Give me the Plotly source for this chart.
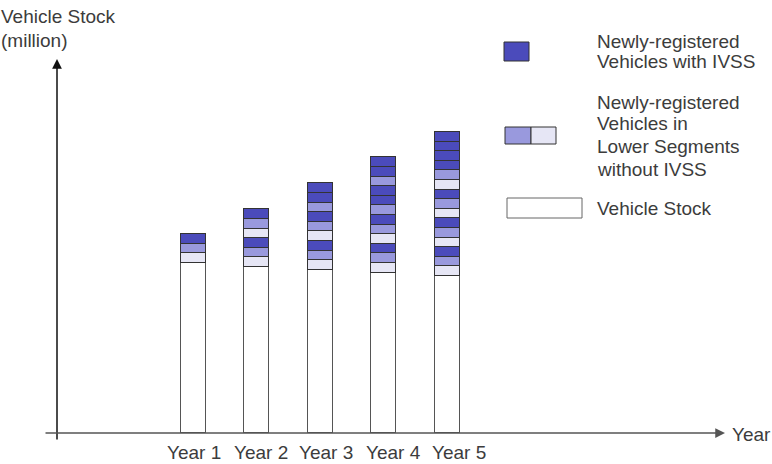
import plotly.graph_objects as go

# ---------------- data ----------------
years = ["Year 1", "Year 2", "Year 3", "Year 4", "Year 5"]
vehicle_stock = [17.7, 17.3, 17.0, 16.7, 16.35]          # million (schematic)
block_size = 1.0                                          # one block of new registrations
# stacked blocks of newly-registered vehicles, bottom to top
# "ivss" = with IVSS, "lower_a"/"lower_b" = lower segments without IVSS
new_blocks = [
    ["lower_b", "lower_a", "ivss"],
    ["lower_b", "lower_a", "ivss", "lower_b", "lower_a", "ivss"],
    ["lower_b", "lower_a", "ivss", "lower_b", "lower_a", "ivss",
     "lower_a", "ivss", "ivss"],
    ["lower_b", "lower_a", "ivss", "lower_b", "lower_a", "ivss",
     "lower_a", "ivss", "ivss", "lower_a", "ivss", "ivss"],
    ["lower_b", "lower_a", "ivss", "lower_b", "lower_a", "ivss",
     "lower_b", "lower_a", "ivss", "lower_b", "lower_a", "ivss",
     "ivss", "ivss", "ivss"],
]
legend_labels = [
    ["Newly-registered", "Vehicles with IVSS"],
    ["Newly-registered", "Vehicles in", "Lower Segments", "without IVSS"],
    ["Vehicle Stock"],
]
y_title = ["Vehicle Stock", "(million)"]
x_title = "Year"

# ---------------- styles ----------------
colors = {"ivss": "#4b4bbb", "lower_a": "#9999dd", "lower_b": "#e6e6f5"}
TXT = "#3c3c3c"
FONT = "Liberation Sans, Arial, sans-serif"
FS = 19
W, H = 772, 464
BASE = 433  # pixel row of x axis


def px(x):
    return x / W


def py(y):
    return (BASE - y) / BASE


fig = go.Figure()

fig.add_trace(go.Bar(
    x=years, y=vehicle_stock, width=0.393,
    marker=dict(color="white", line=dict(color="#555555", width=1)),
    showlegend=False, hoverinfo="skip"))

max_len = max(len(b) for b in new_blocks)
for k in range(max_len):
    xs, ys, cs = [], [], []
    for yr, blocks in zip(years, new_blocks):
        if k < len(blocks):
            xs.append(yr)
            ys.append(block_size)
            cs.append(colors[blocks[k]])
    fig.add_trace(go.Bar(
        x=xs, y=ys, width=0.393,
        marker=dict(color=cs, line=dict(color="#333333", width=1)),
        showlegend=False, hoverinfo="skip"))

# axis range so categories land at the reference bar positions
slope, x0 = 63.6, 193.0
a = -x0 / slope
b = a + W / slope
unit_px = 9.6

annotations = []
# axes with arrows
annotations.append(dict(x=px(57), y=py(59), xref="paper", yref="paper",
                        ax=0, ay=382, axref="pixel", ayref="pixel",
                        text="", showarrow=True, arrowhead=2, arrowsize=1.3,
                        arrowwidth=1.5, arrowcolor="#111111", standoff=0))
annotations.append(dict(x=px(725), y=py(433), xref="paper", yref="paper",
                        ax=-681, ay=0, axref="pixel", ayref="pixel",
                        text="", showarrow=True, arrowhead=2, arrowsize=1.3,
                        arrowwidth=1.5, arrowcolor="#555555", standoff=0))

def label(text, x, y, anchor="left"):
    annotations.append(dict(x=px(x), y=py(y), xref="paper", yref="paper",
                            text=text, showarrow=False, xanchor=anchor,
                            yanchor="middle",
                            font=dict(family=FONT, size=FS, color=TXT)))

# y title
for i, t in enumerate(y_title):
    label(t, -1, 16 + 24 * i)
# x title
label(x_title, 730, 434)
# category labels
for yr, cx in zip(years, [194, 261, 326, 393.5, 458.5]):
    label(yr, cx, 452, anchor="center")

# legend
shapes = [
    dict(type="rect", xref="paper", yref="paper", x0=px(504), x1=px(529),
         y0=py(61), y1=py(42), fillcolor=colors["ivss"],
         line=dict(color="#333333", width=1)),
    dict(type="rect", xref="paper", yref="paper", x0=px(505), x1=px(531),
         y0=py(144), y1=py(127), fillcolor=colors["lower_a"],
         line=dict(color="#333333", width=1)),
    dict(type="rect", xref="paper", yref="paper", x0=px(531), x1=px(556),
         y0=py(144), y1=py(127), fillcolor=colors["lower_b"],
         line=dict(color="#333333", width=1)),
    dict(type="rect", xref="paper", yref="paper", x0=px(507), x1=px(582),
         y0=py(218), y1=py(198), fillcolor="white",
         line=dict(color="#666666", width=1)),
]
legend_y = [[41, 62], [102, 124, 146, 169], [209]]
for lines, ys in zip(legend_labels, legend_y):
    for t, yy in zip(lines, ys):
        label(t, 595, yy)

fig.update_layout(
    width=W, height=H,
    margin=dict(l=0, r=0, t=0, b=H - BASE),
    plot_bgcolor="white", paper_bgcolor="white",
    barmode="stack", bargap=0,
    xaxis=dict(range=[a, b], showgrid=False, zeroline=False,
               showticklabels=False, showline=False, ticks=""),
    yaxis=dict(range=[0, BASE / unit_px], showgrid=False, zeroline=False,
               showticklabels=False, showline=False, ticks=""),
    annotations=annotations, shapes=shapes,
    font=dict(family=FONT, size=FS, color=TXT),
)

fig.write_html("out.html",
               config={"displayModeBar": False},
               post_script="document.body.style.margin='0px';"
                           "document.body.style.overflow='hidden';")
